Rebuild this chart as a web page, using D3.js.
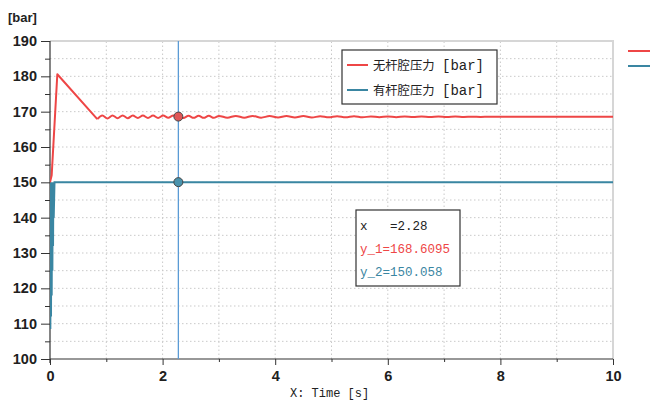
<!DOCTYPE html>
<html><head><meta charset="utf-8">
<script src="https://cdn.jsdelivr.net/npm/d3@7"></script>
<style>body{margin:0;background:#fff}svg{display:block}text{white-space:pre}</style>
</head><body>
<svg id="c" width="650" height="400"></svg>
<script>
// ---- data ----
const xTicks = [0, 2, 4, 6, 8, 10];
const xMinor = [1, 3, 5, 7, 9];
const yTicks = [100, 110, 120, 130, 140, 150, 160, 170, 180, 190];
const yMinor = [105, 115, 125, 135, 145, 155, 165, 175, 185];
const xGrid = [1, 2, 3, 4, 5, 6, 7, 8, 9];
const yGrid = [105, 110, 115, 120, 125, 130, 135, 140, 145, 150, 155, 160, 165, 170, 175, 180, 185];
const seriesNames = ["无杆腔压力", "有杆腔压力"];
const seriesUnit = "[bar]";
const yUnit = "[bar]";
const xTitle = "X: Time [s]";
// series 1 (red) time / pressure
const redT = [0, 0.03, 0.13, 0.84, 0.93, 1.02, 1.11, 1.20, 1.29, 1.38, 1.47, 1.56, 1.65, 1.74, 1.83, 1.92, 2.01, 2.10, 2.19, 2.28, 2.37, 2.46, 2.55, 2.64, 2.73, 2.82, 2.91, 3.00,
  3.15, 3.30, 3.45, 3.60, 3.75, 3.90, 4.05, 4.20, 4.35, 4.50, 4.65, 4.80, 4.95, 5.10, 5.25, 5.40, 5.55, 5.70, 5.85, 6.00, 6.15, 6.30, 6.45, 6.60, 6.75, 6.90, 7.05, 7.20, 7.35, 7.50, 7.65, 7.80, 7.95, 8.1, 10.0];
const redP = [150, 152, 180.6, 167.9, 168.95, 168.1, 168.95, 168.15, 168.95, 168.15, 168.9, 168.2, 168.9, 168.2, 168.9, 168.2, 168.9, 168.25, 168.9, 168.6, 168.2, 168.85, 168.25, 168.85, 168.25, 168.85, 168.25, 168.8,
  168.3, 168.8, 168.3, 168.8, 168.3, 168.75, 168.35, 168.75, 168.35, 168.75, 168.35, 168.7, 168.4, 168.7, 168.4, 168.7, 168.4, 168.65, 168.45, 168.65, 168.45, 168.62, 168.48, 168.62, 168.48, 168.6, 168.5, 168.6, 168.5, 168.58, 168.52, 168.57, 168.53, 168.55, 168.55];
// series 2 (teal)
const blueT = [0, 0.006, 0.012, 0.018, 0.024, 0.030, 0.036, 0.042, 0.048, 0.054, 0.060, 0.066, 0.08, 10];
const blueP = [150, 108.5, 150, 112, 149, 118, 150, 125, 150, 132, 150, 140, 150, 150];
const cursorX = 2.28;
const cursorVals = [168.6095, 150.058];
const readout = ["x   =2.28", "y_1=168.6095", "y_2=150.058"];
const colors = ["#ee4646", "#3a86a2"];

// ---- chart ----
const svg = d3.select("#c");
const x = d3.scaleLinear().domain([0, 10]).range([50, 613]);
const y = d3.scaleLinear().domain([100, 190]).range([359, 41]);

// grid
svg.append("g").selectAll("line").data(xGrid).join("line")
  .attr("x1", d => x(d)).attr("x2", d => x(d)).attr("y1", y(100)).attr("y2", y(190))
  .attr("stroke", "#c9c9c9").attr("stroke-width", 1).attr("stroke-dasharray", "1.5,2.5");
svg.append("g").selectAll("line").data(yGrid).join("line")
  .attr("x1", x(0)).attr("x2", x(10)).attr("y1", d => y(d)).attr("y2", d => y(d))
  .attr("stroke", "#c9c9c9").attr("stroke-width", 1).attr("stroke-dasharray", "1.5,2.5");

// frame top/right
svg.append("line").attr("x1", x(0)).attr("x2", x(10) + 1).attr("y1", y(190)).attr("y2", y(190))
  .attr("stroke", "#d6d6d6").attr("stroke-width", 2);
svg.append("line").attr("x1", x(10)).attr("x2", x(10)).attr("y1", y(190)).attr("y2", y(100))
  .attr("stroke", "#d6d6d6").attr("stroke-width", 2);

// axes
const axFont = g => g.selectAll("text").attr("font-family", "Liberation Sans, Arial, sans-serif")
  .attr("font-weight", "bold").attr("font-size", "14.5px").attr("fill", "#202020");
const yAx = svg.append("g").attr("transform", `translate(${x(0)},0)`)
  .call(d3.axisLeft(y).tickValues(yTicks).tickSize(9).tickPadding(4).tickFormat(d3.format("d")));
yAx.call(axFont);
yAx.select(".domain").remove();
svg.append("g").attr("transform", `translate(${x(0)},0)`)
  .call(d3.axisLeft(y).tickValues(yMinor).tickSize(5).tickFormat(""))
  .select(".domain").remove();
const xAx = svg.append("g").attr("transform", `translate(0,${y(100)})`)
  .call(d3.axisBottom(x).tickValues(xTicks).tickSize(6).tickPadding(6).tickFormat(d3.format("d")));
xAx.call(axFont);
xAx.select(".domain").remove();
svg.append("g").attr("transform", `translate(0,${y(100)})`)
  .call(d3.axisBottom(x).tickValues(xMinor).tickSize(3).tickFormat(""))
  .select(".domain").remove();
svg.selectAll(".tick line").attr("stroke", "#333");
// axis lines
svg.append("line").attr("x1", x(0)).attr("x2", x(0)).attr("y1", y(190)).attr("y2", y(100) + 4)
  .attr("stroke", "#333").attr("stroke-width", 1.2);
svg.append("line").attr("x1", x(0)).attr("x2", x(10)).attr("y1", y(100)).attr("y2", y(100))
  .attr("stroke", "#333").attr("stroke-width", 1.2);

// unit and x title
svg.append("text").attr("x", 8).attr("y", 22).text(yUnit)
  .attr("font-family", "Liberation Sans, Arial, sans-serif").attr("font-weight", "bold")
  .attr("font-size", "13px").attr("fill", "#222");
svg.append("text").attr("x", 290).attr("y", 397).text(xTitle)
  .attr("font-family", "Liberation Mono, DejaVu Sans Mono, monospace")
  .attr("font-size", "12px").attr("fill", "#222");

// lines
svg.append("clipPath").attr("id", "pc").append("rect")
  .attr("x", x(0)).attr("y", y(190)).attr("width", x(10) - x(0)).attr("height", y(100) - y(190));
const redData = redT.map((t, i) => [t, redP[i]]);
const blueData = blueT.map((t, i) => [t, blueP[i]]);
const lin = d3.line().x(d => x(d[0])).y(d => y(d[1]));
const smooth = d3.line().x(d => x(d[0])).y(d => y(d[1])).curve(d3.curveMonotoneX);
svg.append("path").datum(blueData).attr("d", lin)
  .attr("fill", "none").attr("stroke", colors[1]).attr("stroke-width", 2).attr("clip-path", "url(#pc)");
// rise and decline drawn straight, the settling ripple drawn smooth
svg.append("path").datum(redData.slice(0, 4)).attr("d", lin)
  .attr("fill", "none").attr("stroke", colors[0]).attr("stroke-width", 2)
  .attr("stroke-linejoin", "round").attr("clip-path", "url(#pc)");
svg.append("path").datum(redData.slice(3)).attr("d", smooth)
  .attr("fill", "none").attr("stroke", colors[0]).attr("stroke-width", 2).attr("clip-path", "url(#pc)");

// cursor
svg.append("line").attr("x1", x(cursorX)).attr("x2", x(cursorX)).attr("y1", y(190)).attr("y2", y(100))
  .attr("stroke", "#5b9bd5").attr("stroke-width", 1.3);
svg.selectAll("circle.m").data(cursorVals).join("circle").attr("class", "m")
  .attr("cx", x(cursorX)).attr("cy", d => y(d)).attr("r", 4.5)
  .attr("fill", (d, i) => i === 0 ? "#e05656" : "#4a93ad").attr("stroke", "#444").attr("stroke-width", 1);

// legend box
const lg = svg.append("g");
lg.append("rect").attr("x", 342).attr("y", 50).attr("width", 155).attr("height", 54)
  .attr("fill", "#fff").attr("stroke", "#333").attr("stroke-width", 1.2);
seriesNames.forEach((n, i) => {
  const yy = 65 + i * 25;
  lg.append("line").attr("x1", 347).attr("x2", 368).attr("y1", yy).attr("y2", yy)
    .attr("stroke", colors[i]).attr("stroke-width", 2);
  const t = lg.append("text").attr("y", yy + 4.5).attr("fill", "#222");
  t.append("tspan").attr("x", 373).text(n)
    .attr("font-family", "Noto Sans CJK SC, sans-serif").attr("font-size", "12.3px");
  t.append("tspan").attr("x", 442).text(seriesUnit)
    .attr("font-family", "Liberation Mono, DejaVu Sans Mono, monospace").attr("font-size", "14px");
});
// right edge legend segments
seriesNames.forEach((n, i) => {
  svg.append("line").attr("x1", 628).attr("x2", 650).attr("y1", 51 + i * 15).attr("y2", 51 + i * 15)
    .attr("stroke", colors[i]).attr("stroke-width", 2);
});

// readout box
const rb = svg.append("g");
rb.append("rect").attr("x", 356).attr("y", 210).attr("width", 104).attr("height", 76)
  .attr("fill", "#fff").attr("stroke", "#333").attr("stroke-width", 1.2);
const rcol = ["#222", colors[0], colors[1]];
readout.forEach((t, i) => {
  rb.append("text").attr("x", 360).attr("y", 230 + i * 23).text(t)
    .attr("xml:space", "preserve")
    .attr("font-family", "Liberation Mono, DejaVu Sans Mono, monospace").attr("font-size", "12.5px")
    .attr("fill", rcol[i]);
});
</script>
</body></html>
